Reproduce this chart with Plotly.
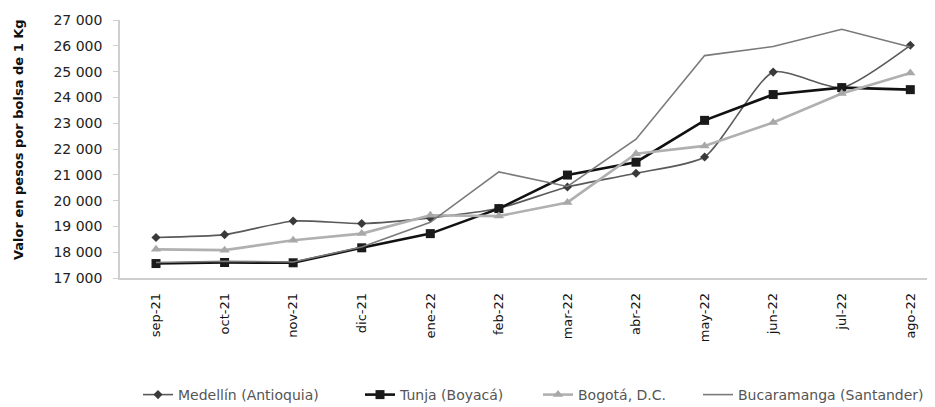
import plotly.graph_objects as go

months = ["sep-21", "oct-21", "nov-21", "dic-21", "ene-22", "feb-22",
          "mar-22", "abr-22", "may-22", "jun-22", "jul-22", "ago-22"]

medellin = [18570, 18680, 19210, 19110, 19330, 19700, 20530, 21060, 21690, 24980, 24380, 26020]
tunja = [17560, 17600, 17590, 18170, 18720, 19690, 20990, 21490, 23110, 24110, 24380, 24300]
bogota = [18110, 18080, 18460, 18720, 19430, 19400, 19930, 21820, 22120, 23030, 24150, 24950]
bucaramanga = [17600, 17650, 17620, 18200, 19160, 21110, 20550, 22380, 25620, 25970, 26640, 25950]

y_ticks = [17000, 18000, 19000, 20000, 21000, 22000, 23000, 24000, 25000, 26000, 27000]
y_title = "Valor en pesos por bolsa de 1 Kg"

FONT = "DejaVu Sans"

fig = go.Figure()
fig.add_trace(go.Scatter(
    x=months, y=medellin, name="Medellín (Antioquia)", mode="lines+markers",
    line=dict(color="#5a5a5a", width=1.6, shape="spline", smoothing=0.6),
    marker=dict(symbol="diamond", size=7, color="#3a3a3a"), legend="legend"))
fig.add_trace(go.Scatter(
    x=months, y=tunja, name="Tunja (Boyacá)", mode="lines+markers",
    line=dict(color="#111111", width=2.6),
    marker=dict(symbol="square", size=9, color="#1a1a1a"), legend="legend2"))
fig.add_trace(go.Scatter(
    x=months, y=bogota, name="Bogotá, D.C.", mode="lines+markers",
    line=dict(color="#b0b0b0", width=2.6),
    marker=dict(symbol="triangle-up", size=9, color="#a8a8a8"), legend="legend3"))
fig.add_trace(go.Scatter(
    x=months, y=bucaramanga, name="Bucaramanga (Santander)", mode="lines",
    line=dict(color="#7a7a7a", width=1.6), legend="legend4"))

# the page adds an 8px body margin; the figure is sized to fit the 935x407 window
PW = 815.0
FW, FH = 927.0, 399.0
def leg(px):
    return dict(orientation="h", xref="container", yref="container",
                x=(px - 8) / FW, xanchor="left", y=1 - 387 / FH, yanchor="middle",
                font=dict(size=14, color="#555555", family=FONT), itemwidth=30,
                bgcolor="rgba(0,0,0,0)", borderwidth=0)

fig.update_layout(
    width=927, height=399,
    margin=dict(l=112, r=0, t=12, b=129),
    paper_bgcolor="white", plot_bgcolor="white",
    separators=", ",
    font=dict(family=FONT, color="#222222"),
    showlegend=True,
    legend=leg(138), legend2=leg(360), legend3=leg(538), legend4=leg(698),
)
fig.update_xaxes(
    type="category", range=[-0.525, 11.36], automargin=False,
    showline=True, linecolor="#cfcfcf", linewidth=1.5,
    showgrid=False, ticks="", tickangle=-90, ticklabelstandoff=8,
    tickfont=dict(size=13, color="#111111", family=FONT),
)
fig.update_yaxes(
    range=[17000, 27000], tickvals=y_ticks, tickformat=",d", automargin=False,
    showline=True, linecolor="#cfcfcf", linewidth=1.5,
    showgrid=False, ticks="outside", ticklen=5, tickcolor="#cfcfcf",
    ticklabelstandoff=8,
    tickfont=dict(size=14, color="#222222", family=FONT),
    zeroline=False,
)
fig.add_annotation(
    text="<b>" + y_title + "</b>", xref="paper", yref="paper",
    x=(18 - 120) / PW, y=(278 - 140) / 258.0, xanchor="center", yanchor="middle",
    textangle=-90, showarrow=False, font=dict(size=13, color="#111111", family=FONT))

fig.write_html("out.html")
